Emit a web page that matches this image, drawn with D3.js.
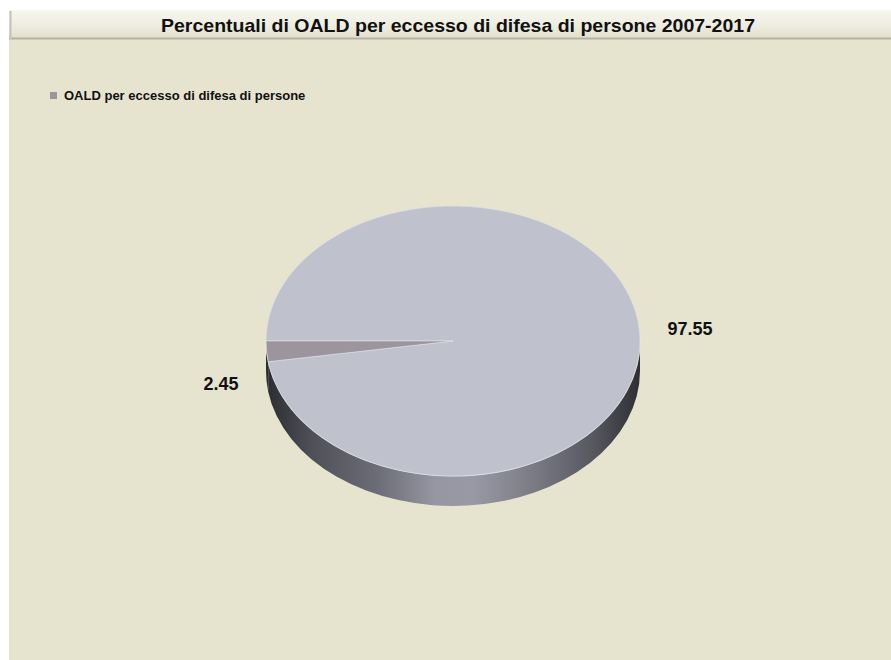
<!DOCTYPE html>
<html>
<head>
<meta charset="utf-8">
<script src="https://cdn.jsdelivr.net/npm/d3@7"></script>
<style>
  body { margin: 0; background: #fff; }
  svg { display: block; }
  text { font-family: "Liberation Sans", Arial, sans-serif; }
</style>
</head>
<body>
<div id="chart"></div>
<script>
// dati
let title = 'Percentuali di OALD per eccesso di difesa di persone 2007-2017'
let seriesName = 'OALD per eccesso di difesa di persone'
let categories = ['Altro', 'OALD per eccesso di difesa di persone']
let values = [97.55, 2.45]
let labels = ['97.55', '2.45']

// stile
let w = 891, h = 660
let cx = 453, cy = 341, rx = 187, ry = 135, depth = 30
let topColors = ['#bfc1cd', '#9d959d']

let svg = d3.select('#chart').append('svg')
  .attr('width', w)
  .attr('height', h)

let defs = svg.append('defs')
let tg = defs.append('linearGradient').attr('id', 'titleGrad')
  .attr('x1', 0).attr('y1', 0).attr('x2', 0).attr('y2', 1)
tg.append('stop').attr('offset', 0).attr('stop-color', '#f7f6ef')
tg.append('stop').attr('offset', 0.5).attr('stop-color', '#efeee2')
tg.append('stop').attr('offset', 1).attr('stop-color', '#e2e0cb')

//gradiente laterale
let sideStops = [
  [0, '#2c2c32'], [0.12, '#4e4f57'], [0.3, '#6c6d76'], [0.45, '#9596a1'],
  [0.55, '#999aa5'], [0.7, '#7d7e88'], [0.88, '#55565e'], [1, '#2e2e34']
]
let sg = defs.append('linearGradient').attr('id', 'sideGrad')
  .attr('gradientUnits', 'userSpaceOnUse')
  .attr('x1', cx - rx).attr('y1', 0).attr('x2', cx + rx).attr('y2', 0)
sideStops.forEach(s => sg.append('stop').attr('offset', s[0]).attr('stop-color', s[1]))

// sfondo
svg.append('rect').attr('x', 9).attr('y', 10).attr('width', w - 9).attr('height', h - 10)
  .attr('fill', '#e6e4cf')
svg.append('rect').attr('x', 9).attr('y', 10).attr('width', w - 9).attr('height', 28)
  .attr('fill', 'url(#titleGrad)')
svg.append('line').attr('x1', 9).attr('x2', w).attr('y1', 38.5).attr('y2', 38.5)
  .attr('stroke', '#b5b4a3').attr('stroke-width', 2)
svg.append('line').attr('x1', 10.5).attr('x2', 10.5).attr('y1', 11).attr('y2', 39)
  .attr('stroke', '#c4c3b3').attr('stroke-width', 2)

svg.append('text')
  .attr('x', 458).attr('y', 32)
  .attr('text-anchor', 'middle')
  .attr('font-size', '19px')
  .attr('font-weight', 'bold')
  .attr('textLength', 594)
  .attr('lengthAdjust', 'spacingAndGlyphs')
  .attr('fill', '#111')
  .text(title)

// legenda
let legend = svg.append('g').attr('transform', 'translate(50, 92)')
legend.append('rect').attr('width', 7).attr('height', 7).attr('fill', topColors[1])
legend.append('text').attr('x', 14).attr('y', 8)
  .attr('font-size', '13px').attr('font-weight', 'bold').attr('fill', '#111')
  .text(seriesName)

// torta
let pie = d3.pie().sort(null).startAngle(-Math.PI / 2).endAngle(Math.PI * 1.5)
let arcs = pie(values)

let pt = (a, dy = 0) => [cx + rx * Math.sin(a), cy - ry * Math.cos(a) + dy]

let topPath = d => {
  let p0 = pt(d.startAngle), p1 = pt(d.endAngle)
  let large = d.endAngle - d.startAngle > Math.PI ? 1 : 0
  return `M${cx},${cy}L${p0}A${rx},${ry} 0 ${large} 1 ${p1}Z`
}

let sidePath = (a0, a1) => {
  let p0 = pt(a0), p1 = pt(a1), q0 = pt(a0, depth), q1 = pt(a1, depth)
  return `M${p0}A${rx},${ry} 0 0 1 ${p1}L${q1}A${rx},${ry} 0 0 0 ${q0}Z`
}

//parte frontale visibile: da 90° a 270°
let sides = arcs.map(d => {
  let a0 = Math.max(d.startAngle, Math.PI / 2)
  let a1 = Math.min(d.endAngle, Math.PI * 1.5)
  return a1 > a0 ? { a0, a1, i: d.index } : null
}).filter(d => d)

svg.append('g').selectAll('path')
  .data(sides)
  .enter()
  .append('path')
  .attr('d', d => sidePath(d.a0, d.a1))
  .attr('fill', 'url(#sideGrad)')

// bordo chiaro frontale
svg.append('path')
  .attr('d', `M${pt(Math.PI / 2)}A${rx},${ry} 0 0 1 ${pt(Math.PI * 1.5)}`)
  .attr('fill', 'none')
  .attr('stroke', 'rgba(235,236,242,0.7)')
  .attr('stroke-width', 1.2)

svg.append('g').selectAll('path')
  .data(arcs)
  .enter()
  .append('path')
  .attr('d', topPath)
  .attr('fill', (d, i) => topColors[i])
  .attr('stroke', 'rgba(225,226,235,0.6)')
  .attr('stroke-width', 1)
  .attr('stroke-linejoin', 'round')

// etichette: quelle sul lato frontale scendono dello spessore
let k = 1.15
svg.append('g').selectAll('text')
  .data(arcs)
  .enter()
  .append('text')
  .attr('x', d => cx + k * rx * Math.sin((d.startAngle + d.endAngle) / 2))
  .attr('y', d => {
    let a = (d.startAngle + d.endAngle) / 2
    let y = cy - k * ry * Math.cos(a)
    return y + 6 + (Math.sin(a) < 0 && Math.cos(a) < 0.2 ? depth + 1 : 0)
  })
  .attr('text-anchor', d => Math.sin((d.startAngle + d.endAngle) / 2) > 0 ? 'start' : 'end')
  .attr('font-size', '18px')
  .attr('font-weight', 'bold')
  .attr('fill', '#111')
  .text((d, i) => labels[i])
</script>
</body>
</html>
